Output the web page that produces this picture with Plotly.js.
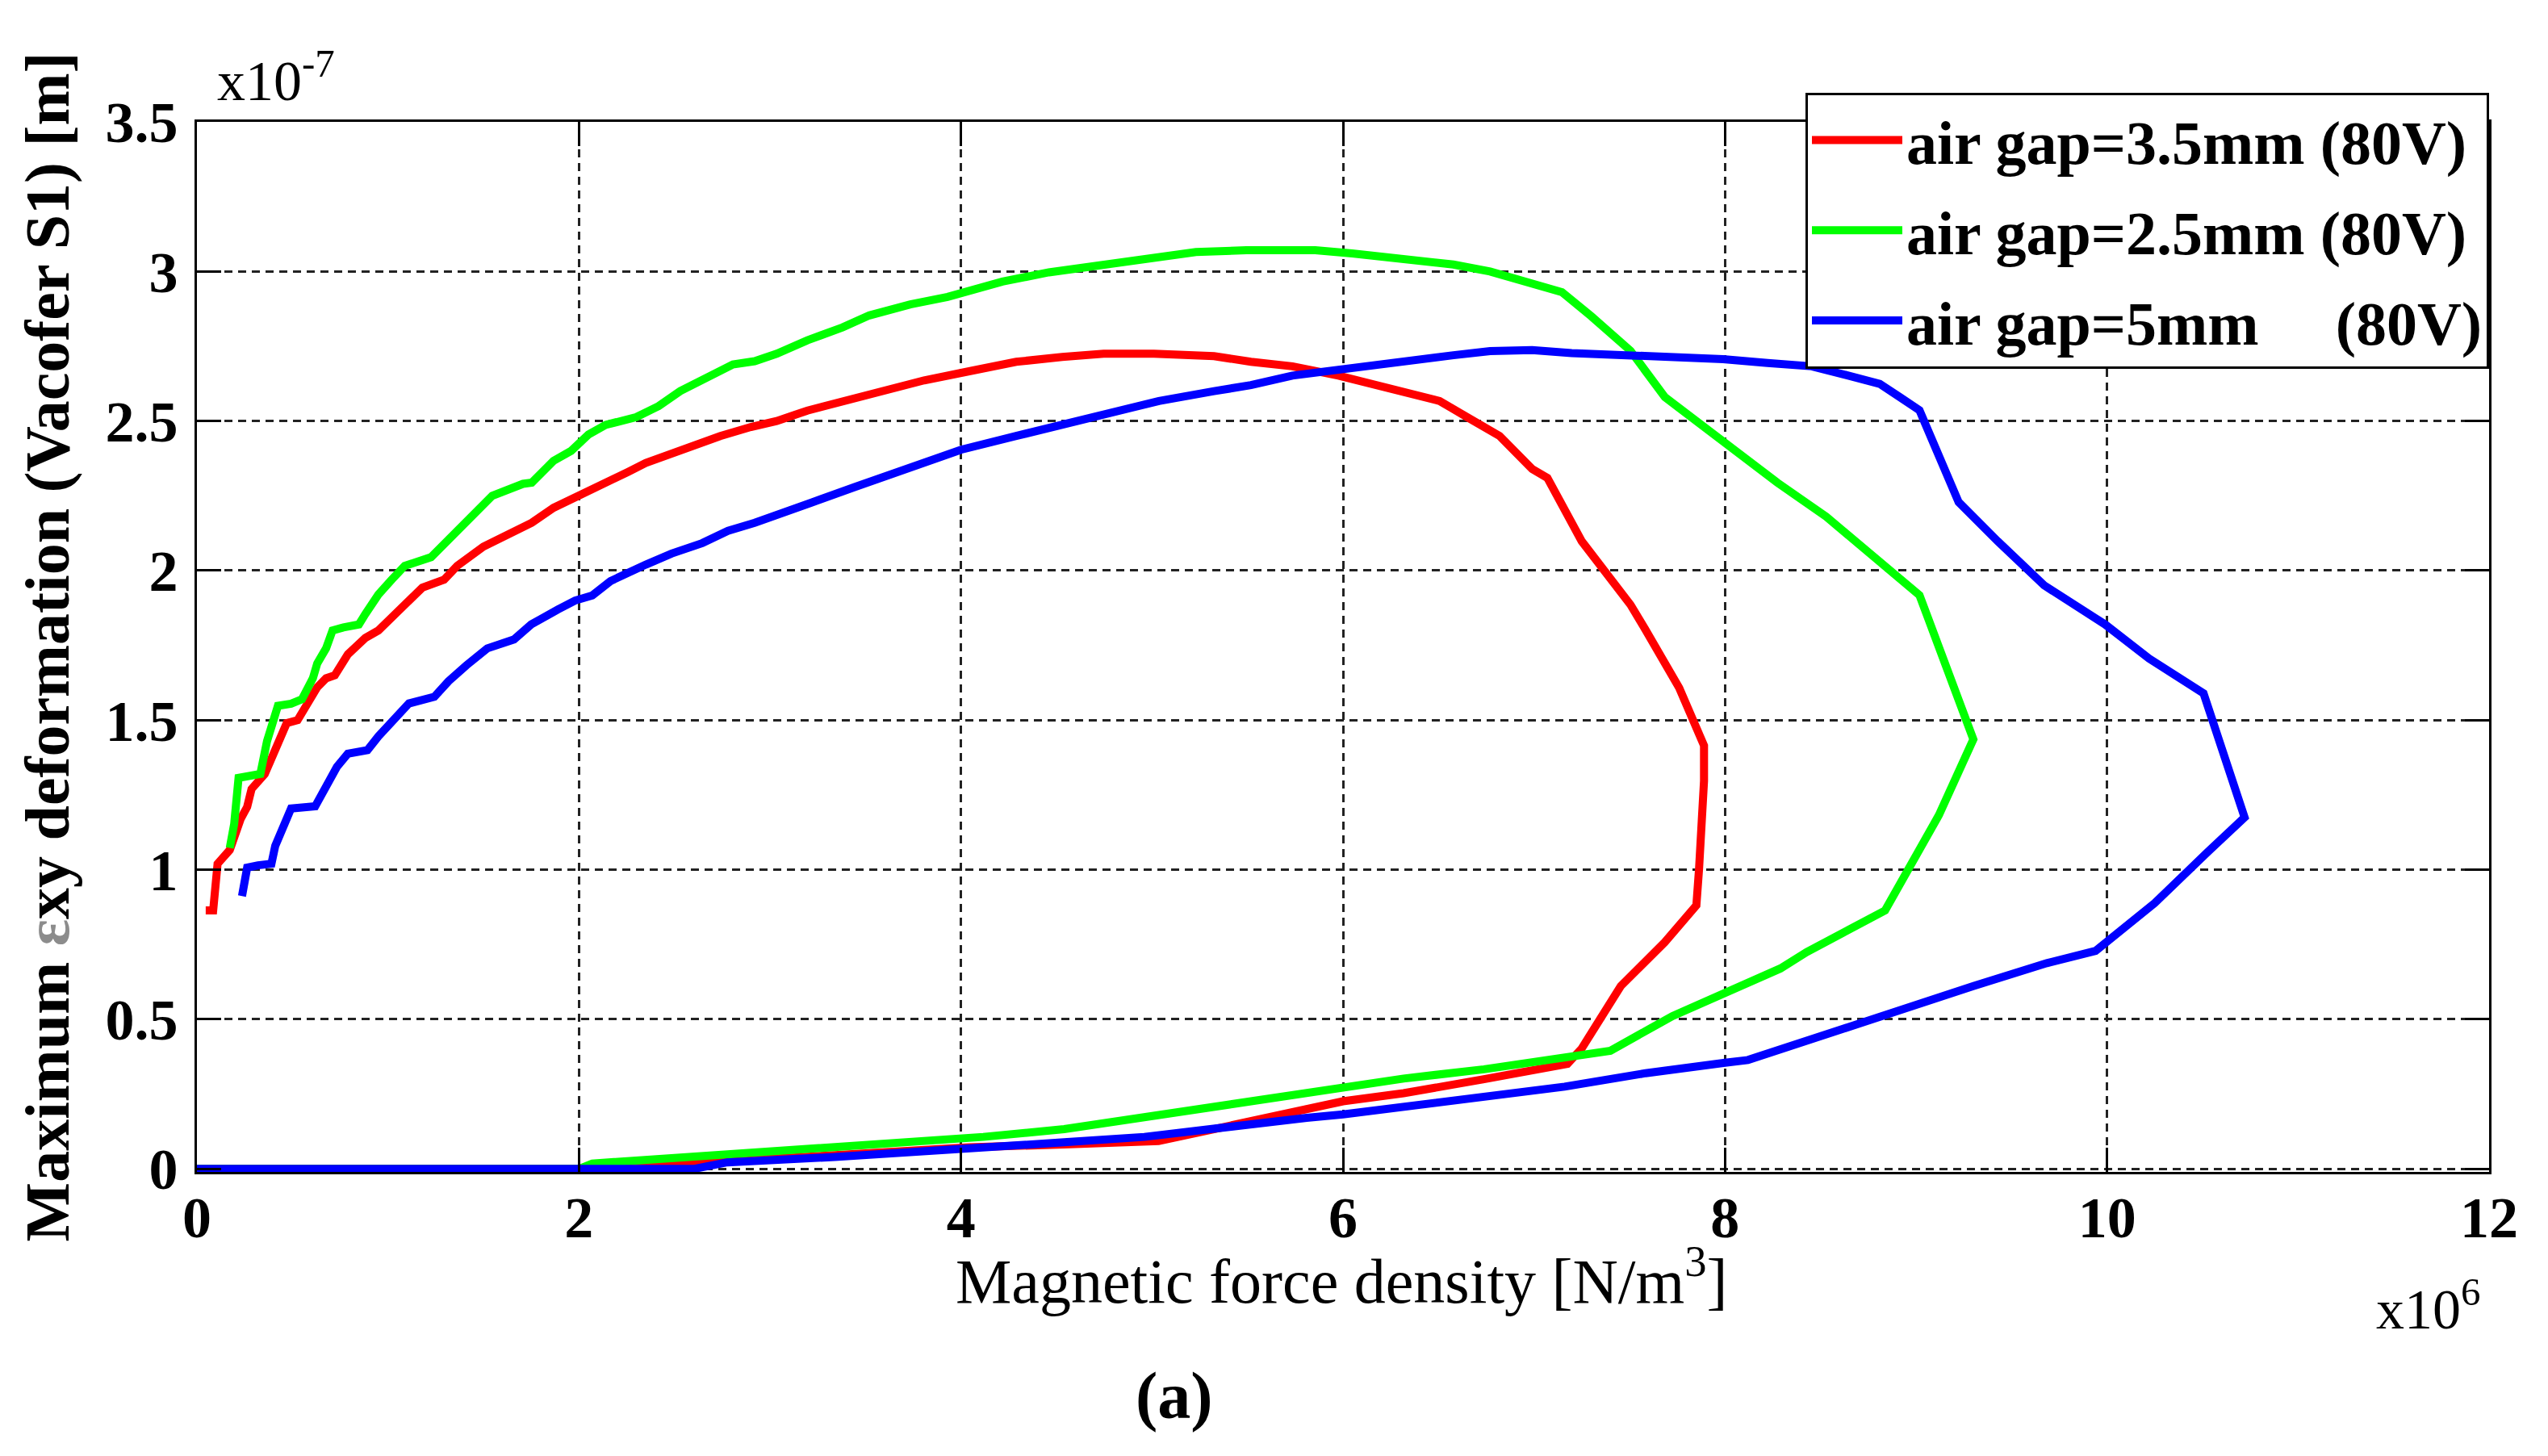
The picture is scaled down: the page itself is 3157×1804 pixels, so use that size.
<!DOCTYPE html>
<html>
<head>
<meta charset="utf-8">
<script src="https://cdn.plot.ly/plotly-3.0.1.min.js"></script>
<style>
  html, body { margin: 0; padding: 0; background: #fff; }
  #chart { width: 3157px; height: 1804px; }
</style>
</head>
<body>
<div id="chart"></div>
<script>
// force density in units of 1e6 N/m^3, deformation in units of 1e-7 m
// each loop goes from the start on the left, over the top, round the right end and back along the bottom

var gap35Force = [0.046, 0.085, 0.108, 0.149, 0.172, 0.229, 0.263, 0.286, 0.309, 0.355, 0.389, 0.435, 0.47, 0.527, 0.561, 0.63, 0.676, 0.722, 0.79, 0.882, 0.95, 1.042, 1.18, 1.294, 1.363, 1.5, 1.638, 1.753, 1.867, 2.005, 2.14, 2.257, 2.35, 2.46, 2.6, 2.74, 2.9, 3.035, 3.196, 3.35, 3.566, 3.807, 4.048, 4.289, 4.53, 4.747, 5.01, 5.325, 5.518, 5.735, 5.976, 6.217, 6.506, 6.65, 6.82, 6.99, 7.07, 7.25, 7.505, 7.582, 7.76, 7.89, 7.89, 7.864, 7.85, 7.685, 7.454, 7.249, 7.175, 6.738, 6.317, 6.0, 5.81, 5.386, 5.034, 4.54, 4.045, 3.34, 2.6, 2.05, 0];
var gap35Deform = [0.864, 0.864, 1.02, 1.044, 1.066, 1.17, 1.21, 1.27, 1.29, 1.32, 1.37, 1.43, 1.49, 1.5, 1.54, 1.61, 1.64, 1.65, 1.72, 1.775, 1.8, 1.855, 1.943, 1.97, 2.016, 2.08, 2.126, 2.16, 2.21, 2.25, 2.29, 2.33, 2.36, 2.385, 2.42, 2.45, 2.48, 2.5, 2.535, 2.56, 2.6, 2.636, 2.667, 2.698, 2.714, 2.725, 2.725, 2.717, 2.698, 2.683, 2.652, 2.613, 2.567, 2.513, 2.45, 2.34, 2.31, 2.098, 1.886, 1.804, 1.608, 1.415, 1.297, 1.003, 0.881, 0.758, 0.611, 0.402, 0.351, 0.3, 0.253, 0.226, 0.2, 0.144, 0.093, 0.082, 0.072, 0.046, 0.02, 0, 0];

var gap25Force = [0.172, 0.195, 0.218, 0.286, 0.332, 0.367, 0.4, 0.424, 0.493, 0.55, 0.607, 0.63, 0.676, 0.71, 0.767, 0.848, 0.882, 0.95, 1.02, 1.088, 1.226, 1.317, 1.41, 1.546, 1.707, 1.753, 1.867, 1.959, 2.05, 2.14, 2.3, 2.417, 2.53, 2.69, 2.806, 2.92, 3.035, 3.196, 3.38, 3.52, 3.735, 3.93, 4.217, 4.46, 4.747, 5.036, 5.23, 5.494, 5.855, 6.048, 6.29, 6.578, 6.77, 6.99, 7.146, 7.3, 7.505, 7.685, 7.94, 8.274, 8.53, 8.81, 9.018, 9.3, 9.12, 8.838, 8.428, 8.29, 8.018, 7.725, 7.4, 7.16, 6.738, 6.317, 6.0, 5.81, 5.386, 4.96, 4.54, 4.117, 3.34, 2.635, 2.07, 2.0, 0];
var gap25Deform = [1.073, 1.153, 1.307, 1.314, 1.32, 1.43, 1.49, 1.548, 1.555, 1.57, 1.64, 1.69, 1.74, 1.8, 1.81, 1.82, 1.855, 1.92, 1.97, 2.016, 2.045, 2.104, 2.16, 2.25, 2.29, 2.294, 2.367, 2.4, 2.455, 2.487, 2.513, 2.55, 2.6, 2.652, 2.689, 2.7, 2.725, 2.77, 2.813, 2.853, 2.89, 2.915, 2.966, 2.997, 3.023, 3.05, 3.065, 3.071, 3.071, 3.06, 3.043, 3.023, 3.0, 2.956, 2.931, 2.85, 2.735, 2.58, 2.457, 2.294, 2.18, 2.025, 1.918, 1.436, 1.183, 0.864, 0.725, 0.67, 0.595, 0.511, 0.395, 0.373, 0.333, 0.302, 0.271, 0.258, 0.213, 0.171, 0.133, 0.107, 0.071, 0.044, 0.018, 0, 0];

var gap5Force = [0.236, 0.263, 0.32, 0.39, 0.41, 0.447, 0.493, 0.619, 0.676, 0.733, 0.79, 0.893, 0.95, 1.02, 1.11, 1.243, 1.317, 1.41, 1.52, 1.66, 1.75, 1.89, 1.98, 2.07, 2.165, 2.35, 2.485, 2.646, 2.78, 2.92, 3.08, 3.22, 3.446, 3.687, 4.0, 4.289, 4.554, 4.747, 5.036, 5.325, 5.518, 5.735, 6.0, 6.29, 6.578, 6.77, 6.99, 7.197, 7.76, 7.99, 8.223, 8.454, 8.633, 8.81, 8.915, 9.018, 9.07, 9.223, 9.428, 9.67, 9.99, 10.22, 10.505, 10.72, 10.528, 10.25, 9.94, 9.685, 9.3, 8.915, 8.515, 8.12, 8.0, 7.584, 7.16, 6.738, 6.317, 6.0, 5.81, 5.386, 4.96, 4.54, 4.045, 3.34, 2.776, 2.6, 0];
var gap5Deform = [0.912, 1.007, 1.015, 1.02, 1.08, 1.14, 1.205, 1.212, 1.285, 1.344, 1.388, 1.4, 1.446, 1.497, 1.556, 1.578, 1.63, 1.683, 1.74, 1.77, 1.82, 1.87, 1.9, 1.917, 1.965, 2.02, 2.057, 2.092, 2.133, 2.16, 2.2, 2.228, 2.28, 2.335, 2.404, 2.45, 2.49, 2.52, 2.567, 2.6, 2.62, 2.652, 2.675, 2.698, 2.72, 2.734, 2.737, 2.727, 2.716, 2.707, 2.694, 2.683, 2.654, 2.624, 2.58, 2.536, 2.458, 2.229, 2.098, 1.951, 1.82, 1.706, 1.59, 1.175, 1.06, 0.889, 0.729, 0.688, 0.611, 0.529, 0.444, 0.364, 0.355, 0.32, 0.275, 0.24, 0.207, 0.182, 0.171, 0.138, 0.107, 0.089, 0.067, 0.04, 0.022, 0, 0];

var seriesNames = ['air gap=3.5mm (80V)', 'air gap=2.5mm (80V)', 'air gap=5mm&nbsp;&nbsp;&nbsp;&nbsp;&nbsp;(80V)'];
var seriesColors = ['#ff0000', '#00ff00', '#0000ff'];

var serif = 'Liberation Serif, Times New Roman, serif';

function makeTrace(x, y, i) {
    return {
        x: x,
        y: y,
        mode: 'lines',
        type: 'scatter',
        name: seriesNames[i],
        legendgroup: 'g' + i,
        line: { color: seriesColors[i], width: 10 }
    };
}

var traces = [
    makeTrace(gap35Force, gap35Deform, 0),
    makeTrace(gap25Force, gap25Deform, 1),
    makeTrace(gap5Force, gap5Deform, 2)
];

var axisCommon = {
    showline: true,
    linecolor: '#000',
    linewidth: 3,
    mirror: 'ticks',
    ticks: 'inside',
    ticklen: 30,
    tickwidth: 3,
    tickcolor: '#000',
    showgrid: true,
    gridcolor: '#222',
    gridwidth: 2.5,
    griddash: '10px,7px',
    zeroline: false,
    automargin: false,
    tickfont: { family: serif, size: 72, color: '#000', weight: 'bold' }
};

var layout = {
    width: 3157,
    height: 1804,
    margin: { l: 244, r: 73, t: 151, b: 352 },
    paper_bgcolor: '#fff',
    plot_bgcolor: '#fff',
    font: { family: serif, color: '#000' },
    showlegend: true,
    legend: {
        x: 1, xanchor: 'right',
        y: 1.028, yanchor: 'top',
        bgcolor: '#fff',
        bordercolor: '#000',
        borderwidth: 3,
        itemwidth: 112,
        tracegroupgap: 10,
        font: { family: serif, size: 76, color: '#000', weight: 'bold' }
    },
    xaxis: Object.assign({}, axisCommon, {
        range: [0, 12],
        dtick: 2,
        ticklabelstandoff: -8
    }),
    yaxis: Object.assign({}, axisCommon, {
        range: [-0.01, 3.5],
        dtick: 0.5,
        ticklabelstandoff: 6,
        title: {
            text: 'Maximum <span style="color:#8c8c8c">\u03b5</span>xy deformation (Vacofer S1) [m]',
            standoff: 20,
            font: { family: serif, size: 78, color: '#000', weight: 'bold' }
        }
    }),
    annotations: [
        {
            // x axis title, placed by hand to sit close under the tick labels
            text: 'Magnetic force density [N/m<sup>3</sup>]',
            xref: 'paper', yref: 'paper',
            x: 0.4993, y: -0.139,
            xanchor: 'center', yanchor: 'bottom',
            showarrow: false,
            font: { family: serif, size: 78, color: '#000' }
        },
        {
            text: 'x10<sup>-7</sup>',
            xref: 'paper', yref: 'paper',
            x: 0.008, y: 1.008,
            xanchor: 'left', yanchor: 'bottom',
            showarrow: false,
            font: { family: serif, size: 70, color: '#000' }
        },
        {
            text: 'x10<sup>6</sup>',
            xref: 'paper', yref: 'paper',
            x: 0.95, y: -0.162,
            xanchor: 'left', yanchor: 'bottom',
            showarrow: false,
            font: { family: serif, size: 70, color: '#000' }
        },
        {
            text: '(a)',
            xref: 'paper', yref: 'paper',
            x: 0.4263, y: -0.2133,
            xanchor: 'center', yanchor: 'middle',
            showarrow: false,
            font: { family: serif, size: 82, color: '#000', weight: 'bold' }
        }
    ]
};

try {
    Plotly.newPlot('chart', traces, layout, { displayModeBar: false, responsive: false });
} catch (error) {
    document.body.insertAdjacentHTML('beforeend', '<pre>' + error.message + '</pre>');
}
</script>
</body>
</html>
